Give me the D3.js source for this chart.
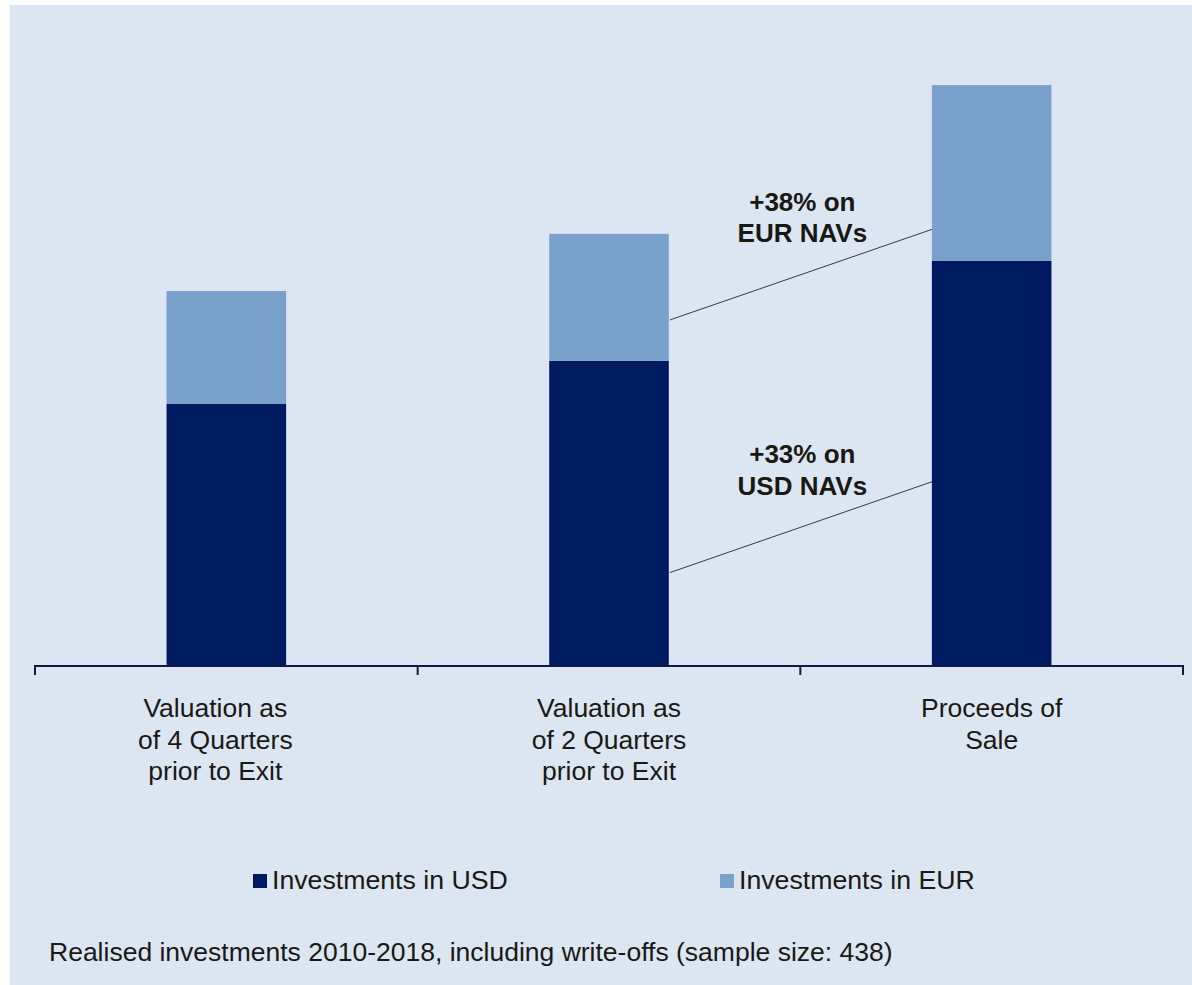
<!DOCTYPE html>
<html>
<head>
<meta charset="utf-8">
<script src="https://cdn.jsdelivr.net/npm/d3@7"></script>
<style>
  html, body { margin: 0; padding: 0; background: #ffffff; }
  svg { display: block; }
  text { font-family: Arial, "Liberation Sans", Helvetica, sans-serif; fill: #1a1814; }
</style>
</head>
<body>
<svg id="chart" width="1192" height="985"></svg>
<script>
// Categories (wrapped into lines for the axis labels)
const categories = [
  ["Valuation as", "of 4 Quarters", "prior to Exit"],
  ["Valuation as", "of 2 Quarters", "prior to Exit"],
  ["Proceeds of", "Sale"]
];
// Indexed NAV values (USD valuation 4 quarters before exit = 100)
const usdValues = [100, 116.5, 154.8];
const eurValues = [43.3, 48.7, 67.4];
const seriesNames = ["Investments in USD", "Investments in EUR"];

// Growth callouts between the 2-quarter valuation and the sale proceeds
const callouts = [
  { lines: ["+38% on", "EUR NAVs"], from: 132.2, to: 166.9, labelAt: 174.1 },
  { lines: ["+33% on", "USD NAVs"], from: 35.4, to: 70.2, labelAt: 77.3 }
];
const footnote = "Realised investments 2010-2018, including write-offs (sample size: 438)";

const colors = { usd: "#001a61", eur: "#7aa1cc", bg: "#dce6f2", axis: "#0f1b42" };

const svg = d3.select("#chart");

// panel background
svg.append("rect")
  .attr("x", 10).attr("y", 5)
  .attr("width", 1182).attr("height", 980)
  .attr("fill", colors.bg);

const x = d3.scaleBand()
  .domain(d3.range(categories.length))
  .range([35, 1183])
  .paddingInner(0).paddingOuter(0);

const y = d3.scaleLinear()
  .domain([0, 250])
  .range([665, 12.5]);

const barW = x.bandwidth() * 0.3125;
const barX = i => x(i) + (x.bandwidth() - barW) / 2;

const stackData = categories.map((c, i) => ({ i, usd: usdValues[i], eur: eurValues[i] }));
const stacked = d3.stack().keys(["usd", "eur"])(stackData);

svg.append("g")
  .selectAll("g")
  .data(stacked)
  .join("g")
  .attr("fill", d => colors[d.key])
  .selectAll("rect")
  .data(d => d)
  .join("rect")
  .attr("x", d => barX(d.data.i))
  .attr("width", barW)
  .attr("y", d => y(d[1]))
  .attr("height", d => y(d[0]) - y(d[1]));

// category axis: baseline with ticks on the band boundaries
const axisY = 666;
const axisG = svg.append("g").attr("stroke", colors.axis).attr("stroke-width", 2).attr("fill", "none");
const [r0, r1] = x.range();
axisG.append("line").attr("x1", r0).attr("x2", r1).attr("y1", axisY).attr("y2", axisY);
const tickXs = categories.map((c, i) => x(i)).concat([r1]);
axisG.selectAll("line.tick")
  .data(tickXs)
  .join("line")
  .attr("class", "tick")
  .attr("x1", d => d).attr("x2", d => d)
  .attr("y1", axisY - 1).attr("y2", axisY + 9);

// category labels
const labelG = svg.append("g");
categories.forEach((lines, i) => {
  const cx = x(i) + x.bandwidth() / 2 + (i === 0 ? -11 : 0);
  const t = labelG.append("text")
    .attr("text-anchor", "middle")
    .attr("font-size", 26.5)
    .attr("x", cx)
    .attr("y", 717);
  lines.forEach((ln, k) => {
    t.append("tspan").attr("x", cx).attr("dy", k === 0 ? 0 : 31.5).text(ln);
  });
});

// callout leader lines and labels
const leftEdge = barX(1) + barW;
const rightEdge = barX(2);
const calloutG = svg.append("g");
callouts.forEach(c => {
  calloutG.append("line")
    .attr("x1", leftEdge + 1).attr("y1", y(c.from))
    .attr("x2", rightEdge).attr("y2", y(c.to))
    .attr("stroke", "#3a3a3a").attr("stroke-width", 1);
  const cx = (leftEdge + rightEdge) / 2 + 2;
  const t = calloutG.append("text")
    .attr("text-anchor", "middle")
    .attr("font-size", 26)
    .attr("font-weight", "bold")
    .attr("x", cx)
    .attr("y", y(c.labelAt));
  c.lines.forEach((ln, k) => {
    t.append("tspan").attr("x", cx).attr("dy", k === 0 ? 0 : 31.5).text(ln);
  });
});

// legend
const legendItems = [
  { name: seriesNames[0], color: colors.usd, x: 253 },
  { name: seriesNames[1], color: colors.eur, x: 720 }
];
const legendG = svg.append("g");
legendItems.forEach(d => {
  legendG.append("rect")
    .attr("x", d.x).attr("y", 874)
    .attr("width", 14).attr("height", 14)
    .attr("fill", d.color);
  legendG.append("text")
    .attr("x", d.x + 19).attr("y", 889)
    .attr("font-size", 26.7)
    .text(d.name);
});

// footnote
svg.append("text")
  .attr("x", 49).attr("y", 961)
  .attr("font-size", 26.5)
  .text(footnote);
</script>
</body>
</html>
